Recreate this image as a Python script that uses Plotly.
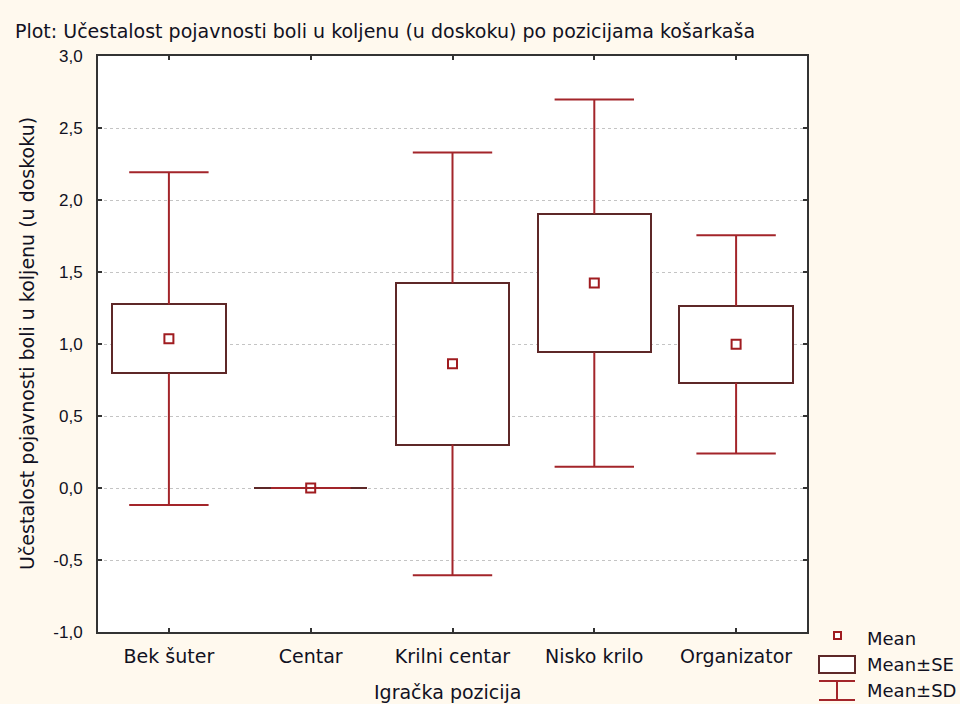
import plotly.graph_objects as go

# ---- data ----
categories = ["Bek šuter", "Centar", "Krilni centar", "Nisko krilo", "Organizator"]
means = [1.037, 0.0, 0.862, 1.423, 0.998]
se = [0.238, 0.0, 0.560, 0.481, 0.267]
sd = [1.155, 0.0, 1.468, 1.275, 0.758]
y_ticks = [-1.0, -0.5, 0.0, 0.5, 1.0, 1.5, 2.0, 2.5, 3.0]
y_tick_labels = ["-1,0", "-0,5", "0,0", "0,5", "1,0", "1,5", "2,0", "2,5", "3,0"]

TITLE = "Plot: Učestalost pojavnosti boli u koljenu (u doskoku) po pozicijama košarkaša"
Y_TITLE = "Učestalost pojavnosti boli u koljenu (u doskoku)"
X_TITLE = "Igračka pozicija"

# ---- styles ----
BG = "#FFF9EE"
BOX_COL = "#5E2828"
WHISK_COL = "#A3252A"
MEAN_COL = "#A01C20"
TXT = "#111122"
FONT_TXT = "DejaVu Sans"
FONT_NUM = "Liberation Sans"
TXT_SIZE = 19
BOX_W = 0.8
CAP_HALF = 0.28

idx = list(range(len(categories)))

fig = go.Figure()

# Mean ± SE boxes
fig.add_trace(go.Bar(
    x=idx,
    y=[2 * s for s in se],
    base=[m - s for m, s in zip(means, se)],
    width=BOX_W,
    marker=dict(color="white", line=dict(color=BOX_COL, width=2)),
    hoverinfo="skip",
    showlegend=False,
))

# Mean ± SD whiskers (from box edge to cap)
wx, wy = [], []
for i, m, s, d in zip(idx, means, se, sd):
    for sign in (1, -1):
        e0 = m + sign * s
        e1 = m + sign * d
        wx += [i, i, None, i - CAP_HALF, i + CAP_HALF, None]
        wy += [e0, e1, None, e1, e1, None]
fig.add_trace(go.Scatter(
    x=wx, y=wy, mode="lines",
    line=dict(color=WHISK_COL, width=2),
    hoverinfo="skip", showlegend=False,
))

# Means
fig.add_trace(go.Scatter(
    x=idx, y=means, mode="markers",
    marker=dict(symbol="square-open", size=9, color=MEAN_COL, line=dict(width=2, color=MEAN_COL)),
    hoverinfo="skip", showlegend=False,
))

# ---- layout ----
L, R, T, B = 98, 153, 56, 72
W, H = 960, 704
pw, ph = W - L - R, H - T - B


def px_x(px):
    return (px - L) / pw


def px_y(py):
    return (H - B - py) / ph


fig.update_layout(
    width=W, height=H,
    margin=dict(l=L, r=R, t=T, b=B, pad=0),
    paper_bgcolor=BG,
    plot_bgcolor="white",
    showlegend=False,
    bargap=0,
    font=dict(family=FONT_TXT, size=TXT_SIZE, color=TXT),
)

fig.update_xaxes(
    range=[-0.5, 4.5],
    tickmode="array", tickvals=idx, ticktext=categories,
    tickfont=dict(family=FONT_TXT, size=TXT_SIZE, color=TXT),
    ticks="inside", ticklen=4, tickwidth=1.5, tickcolor="#333333",
    showline=True, linecolor="#333333", linewidth=2, mirror="ticks",
    showgrid=False, zeroline=False,
    ticklabelstandoff=6,
)
fig.update_yaxes(
    range=[-1.0, 3.0],
    tickmode="array", tickvals=y_ticks, ticktext=y_tick_labels,
    tickfont=dict(family=FONT_NUM, size=17, color=TXT),
    ticks="inside", ticklen=4, tickwidth=1.5, tickcolor="#333333",
    showline=True, linecolor="#333333", linewidth=2, mirror="ticks",
    showgrid=True, gridcolor="#C4C4C4", griddash="dot", gridwidth=1,
    zeroline=False,
    ticklabelstandoff=10,
)

annotations = [
    dict(text=TITLE, xref="paper", yref="paper", x=px_x(13), y=px_y(31),
         xanchor="left", yanchor="middle", showarrow=False,
         font=dict(family=FONT_TXT, size=TXT_SIZE, color=TXT)),
    dict(text=Y_TITLE, xref="paper", yref="paper", x=px_x(27), y=px_y(344),
         xanchor="center", yanchor="middle", showarrow=False, textangle=-90,
         font=dict(family=FONT_TXT, size=TXT_SIZE, color=TXT)),
    dict(text=X_TITLE, xref="paper", yref="paper", x=px_x(448), y=px_y(692),
         xanchor="center", yanchor="middle", showarrow=False,
         font=dict(family=FONT_TXT, size=TXT_SIZE, color=TXT)),
]

# manual legend
legend_items = ["Mean", "Mean±SE", "Mean±SD"]
legend_y = [638, 664, 690]
for lab, ly in zip(legend_items, legend_y):
    annotations.append(dict(text=lab, xref="paper", yref="paper", x=px_x(865), y=px_y(ly),
                            xanchor="left", yanchor="middle", showarrow=False,
                            font=dict(family=FONT_TXT, size=18, color=TXT)))

shapes = [
    # Mean marker
    dict(type="rect", xref="paper", yref="paper",
         x0=px_x(834), x1=px_x(841), y0=px_y(639), y1=px_y(632),
         line=dict(color=MEAN_COL, width=2), fillcolor="white"),
    # SE box
    dict(type="rect", xref="paper", yref="paper",
         x0=px_x(819), x1=px_x(855), y0=px_y(673), y1=px_y(656),
         line=dict(color=BOX_COL, width=2), fillcolor="white"),
    # SD I-beam
    dict(type="line", xref="paper", yref="paper",
         x0=px_x(819), x1=px_x(855), y0=px_y(681), y1=px_y(681),
         line=dict(color=WHISK_COL, width=2)),
    dict(type="line", xref="paper", yref="paper",
         x0=px_x(819), x1=px_x(855), y0=px_y(700), y1=px_y(700),
         line=dict(color=WHISK_COL, width=2)),
    dict(type="line", xref="paper", yref="paper",
         x0=px_x(837), x1=px_x(837), y0=px_y(681), y1=px_y(700),
         line=dict(color=WHISK_COL, width=2)),
]

fig.update_layout(annotations=annotations, shapes=shapes)

fig.write_html(
    "out.html",
    config={"displayModeBar": False},
    post_script="document.body.style.margin='0';document.body.style.padding='0';"
                "document.body.style.overflow='hidden';",
)
